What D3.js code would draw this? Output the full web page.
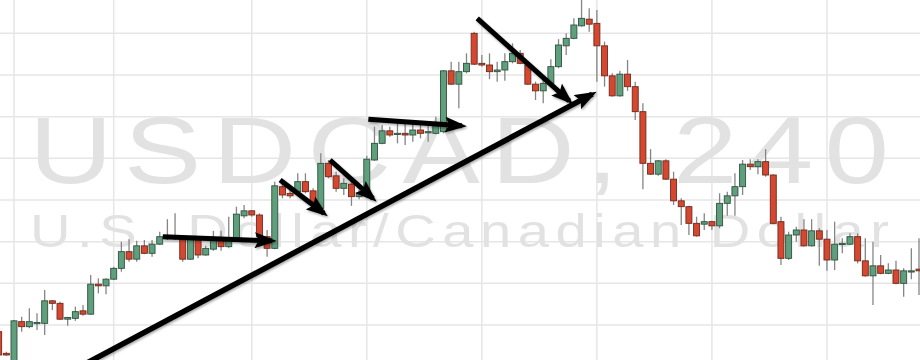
<!DOCTYPE html>
<html>
<head>
<meta charset="utf-8">
<script src="https://cdn.jsdelivr.net/npm/d3@7"></script>
<style>
  html, body { margin: 0; padding: 0; background: #fff; }
  #chart { width: 920px; height: 360px; overflow: hidden; }
</style>
</head>
<body>
<div id="chart"></div>
<script>
// USDCAD 4H candles (oldest first)
const open = [
    1.2992, 1.2966, 1.2940, 1.3004, 1.2998, 1.3002, 1.3002, 1.3029, 1.3026, 1.3007,
    1.3008, 1.3017, 1.3013, 1.3049, 1.3047, 1.3055, 1.3068, 1.3088, 1.3079, 1.3095,
    1.3086, 1.3097, 1.3104, 1.3107, 1.3104, 1.3079, 1.3104, 1.3084, 1.3091, 1.3102,
    1.3094, 1.3103, 1.3131, 1.3137, 1.3132, 1.3106, 1.3092, 1.3166, 1.3158, 1.3160,
    1.3172, 1.3161, 1.3140, 1.3194, 1.3179, 1.3164, 1.3169, 1.3154, 1.3158, 1.3198,
    1.3218, 1.3233, 1.3229, 1.3230, 1.3228, 1.3234, 1.3231, 1.3230, 1.3232, 1.3305,
    1.3289, 1.3304, 1.3350, 1.3314, 1.3312, 1.3304, 1.3306, 1.3316, 1.3326, 1.3312,
    1.3289, 1.3281, 1.3290, 1.3310, 1.3335, 1.3344, 1.3359, 1.3367, 1.3362, 1.3335,
    1.3299, 1.3275, 1.3301, 1.3286, 1.3256, 1.3194, 1.3181, 1.3197, 1.3175, 1.3149,
    1.3142, 1.3122, 1.3121, 1.3124, 1.3119, 1.3146, 1.3155, 1.3166, 1.3193, 1.3190,
    1.3196, 1.3180, 1.3124, 1.3080, 1.3108, 1.3114, 1.3095, 1.3113, 1.3103, 1.3078,
    1.3097, 1.3097, 1.3106, 1.3077, 1.3059, 1.3071, 1.3062, 1.3066, 1.3050, 1.3064,
    1.3067
];
const high = [
    1.2996, 1.2968, 1.3006, 1.3010, 1.3020, 1.3014, 1.3042, 1.3030, 1.3028, 1.3010,
    1.3022, 1.3024, 1.3060, 1.3056, 1.3056, 1.3070, 1.3100, 1.3103, 1.3101, 1.3102,
    1.3102, 1.3112, 1.3127, 1.3134, 1.3107, 1.3106, 1.3106, 1.3095, 1.3113, 1.3113,
    1.3130, 1.3142, 1.3144, 1.3138, 1.3134, 1.3114, 1.3172, 1.3170, 1.3162, 1.3182,
    1.3182, 1.3164, 1.3206, 1.3198, 1.3184, 1.3176, 1.3174, 1.3162, 1.3203, 1.3238,
    1.3240, 1.3238, 1.3242, 1.3242, 1.3242, 1.3240, 1.3240, 1.3250, 1.3306, 1.3316,
    1.3316, 1.3326, 1.3352, 1.3324, 1.3326, 1.3316, 1.3326, 1.3338, 1.3330, 1.3313,
    1.3292, 1.3296, 1.3319, 1.3343, 1.3350, 1.3368, 1.3396, 1.3380, 1.3378, 1.3340,
    1.3302, 1.3305, 1.3318, 1.3292, 1.3266, 1.3211, 1.3198, 1.3199, 1.3184, 1.3152,
    1.3143, 1.3130, 1.3134, 1.3125, 1.3158, 1.3160, 1.3182, 1.3198, 1.3199, 1.3199,
    1.3211, 1.3181, 1.3130, 1.3112, 1.3118, 1.3127, 1.3127, 1.3116, 1.3114, 1.3124,
    1.3104, 1.3110, 1.3110, 1.3104, 1.3100, 1.3084, 1.3074, 1.3077, 1.3068, 1.3092,
    1.3104
];
const low = [
    1.2960, 1.2963, 1.2934, 1.2992, 1.2996, 1.2994, 1.2988, 1.3018, 1.3006, 1.2999,
    1.3005, 1.3011, 1.3012, 1.3038, 1.3037, 1.3054, 1.3064, 1.3076, 1.3076, 1.3085,
    1.3082, 1.3096, 1.3102, 1.3102, 1.3076, 1.3078, 1.3080, 1.3083, 1.3089, 1.3089,
    1.3092, 1.3102, 1.3128, 1.3130, 1.3104, 1.3082, 1.3091, 1.3152, 1.3152, 1.3158,
    1.3158, 1.3142, 1.3139, 1.3176, 1.3160, 1.3156, 1.3143, 1.3151, 1.3157, 1.3197,
    1.3217, 1.3226, 1.3218, 1.3216, 1.3220, 1.3224, 1.3220, 1.3229, 1.3230, 1.3288,
    1.3260, 1.3302, 1.3312, 1.3310, 1.3295, 1.3292, 1.3293, 1.3314, 1.3313, 1.3288,
    1.3270, 1.3266, 1.3289, 1.3308, 1.3324, 1.3343, 1.3358, 1.3352, 1.3292, 1.3286,
    1.3274, 1.3274, 1.3281, 1.3246, 1.3163, 1.3180, 1.3179, 1.3174, 1.3144, 1.3120,
    1.3108, 1.3106, 1.3114, 1.3114, 1.3116, 1.3131, 1.3131, 1.3156, 1.3186, 1.3181,
    1.3178, 1.3121, 1.3072, 1.3078, 1.3100, 1.3094, 1.3094, 1.3071, 1.3065, 1.3066,
    1.3086, 1.3096, 1.3074, 1.3058, 1.3024, 1.3061, 1.3061, 1.3049, 1.3034, 1.3055,
    1.3036
];
const close = [
    1.2964, 1.2964, 1.3005, 1.2998, 1.3004, 1.3003, 1.3029, 1.3026, 1.3007, 1.3009,
    1.3016, 1.3013, 1.3049, 1.3047, 1.3055, 1.3068, 1.3088, 1.3079, 1.3095, 1.3086,
    1.3097, 1.3106, 1.3107, 1.3104, 1.3079, 1.3104, 1.3084, 1.3092, 1.3102, 1.3094,
    1.3103, 1.3133, 1.3137, 1.3132, 1.3106, 1.3092, 1.3167, 1.3156, 1.3155, 1.3172,
    1.3160, 1.3148, 1.3194, 1.3178, 1.3164, 1.3170, 1.3154, 1.3158, 1.3199, 1.3218,
    1.3233, 1.3228, 1.3230, 1.3228, 1.3234, 1.3230, 1.3232, 1.3239, 1.3305, 1.3289,
    1.3304, 1.3314, 1.3313, 1.3312, 1.3304, 1.3306, 1.3316, 1.3326, 1.3314, 1.3289,
    1.3281, 1.3290, 1.3310, 1.3336, 1.3344, 1.3360, 1.3368, 1.3361, 1.3335, 1.3299,
    1.3275, 1.3301, 1.3286, 1.3256, 1.3194, 1.3181, 1.3197, 1.3175, 1.3149, 1.3142,
    1.3122, 1.3107, 1.3124, 1.3119, 1.3146, 1.3155, 1.3166, 1.3193, 1.3190, 1.3196,
    1.3180, 1.3122, 1.3080, 1.3108, 1.3114, 1.3095, 1.3113, 1.3103, 1.3078, 1.3097,
    1.3098, 1.3106, 1.3077, 1.3059, 1.3071, 1.3062, 1.3066, 1.3050, 1.3065, 1.3065,
    1.3065
];

// grid: price levels and the bar numbers where time lines fall
const priceTicks = [1.295, 1.300, 1.305, 1.310, 1.315, 1.320, 1.325, 1.330, 1.335, 1.340];
const timeTicks = [2, 15, 33, 48, 63, 78, 93, 108];

const symbolText = 'USDCAD, 240';
const descText = 'U.S. Dollar/Canadian Dollar';

// hand drawn arrows, [bar, price] -> [bar, price]
const arrows = [
    { from: [10.6, 1.2950], to: [77.4, 1.3277] },
    { from: [21.4, 1.3106], to: [35.6, 1.3101] },
    { from: [36.7, 1.3174], to: [42.4, 1.3134] },
    { from: [43.2, 1.3198], to: [48.8, 1.3152] },
    { from: [48.2, 1.3247], to: [60.4, 1.3239] },
    { from: [62.4, 1.3368], to: [74.4, 1.3269] }
];

const width = 920;
const height = 360;

const candles = open.map((o, i) => ({ i, o, h: high[i], l: low[i], c: close[i] }));

const svg = d3.select('#chart')
    .append('svg')
    .attr('width', width)
    .attr('height', height);

const defs = svg.append('defs');

defs.append('marker')
    .attr('id', 'head')
    .attr('markerUnits', 'userSpaceOnUse')
    .attr('viewBox', '0 0 22 16')
    .attr('markerWidth', 22)
    .attr('markerHeight', 16)
    .attr('refX', 17)
    .attr('refY', 8)
    .attr('orient', 'auto')
    .append('path')
    .attr('d', 'M0,0 L22,8 L0,16 L4,8 Z')
    .attr('fill', '#000');

const shadow = defs.append('filter')
    .attr('id', 'shadow')
    .attr('x', '-20%').attr('y', '-20%')
    .attr('width', '140%').attr('height', '140%');
shadow.append('feDropShadow')
    .attr('dx', 1)
    .attr('dy', 1.5)
    .attr('stdDeviation', 1.3)
    .attr('flood-color', '#000')
    .attr('flood-opacity', 0.35);

svg.append('rect')
    .attr('width', width)
    .attr('height', height)
    .attr('fill', '#ffffff');

const x = d3.scaleLinear()
    .domain([2, 120])
    .range([14, 919]);

const y = d3.scaleLinear()
    .domain([1.339, 1.2958])
    .range([0, 360]);

// grid lines
svg.append('g')
    .selectAll('line')
    .data(priceTicks)
    .enter()
    .append('line')
    .attr('x1', 0)
    .attr('x2', width)
    .attr('y1', d => y(d))
    .attr('y2', d => y(d))
    .attr('stroke', '#e6e6e6')
    .attr('stroke-width', 1.5);

svg.append('g')
    .selectAll('line')
    .data(timeTicks)
    .enter()
    .append('line')
    .attr('x1', d => x(d))
    .attr('x2', d => x(d))
    .attr('y1', 0)
    .attr('y2', height)
    .attr('stroke', '#e6e6e6')
    .attr('stroke-width', 1.5);

// watermark, glyphs are a little wider than the font's own
const stretch = 1.22;
const mark = svg.append('g')
    .attr('transform', `scale(${stretch},1)`)
    .style('font-family', '"Liberation Sans", Arial, sans-serif')
    .style('fill', '#e2e2e2');

mark.append('text')
    .attr('x', 29 / stretch)
    .attr('y', 183)
    .attr('textLength', 860 / stretch)
    .attr('lengthAdjust', 'spacing')
    .style('font-size', '95px')
    .text(symbolText);

mark.append('text')
    .attr('x', 30 / stretch)
    .attr('y', 247)
    .attr('textLength', 859 / stretch)
    .attr('lengthAdjust', 'spacing')
    .style('font-size', '46px')
    .text(descText);

// candles
const up = d => d.c >= d.o;
const bodyW = 6;

const g = svg.append('g');

g.selectAll('.wick')
    .data(candles)
    .enter()
    .append('line')
    .attr('class', 'wick')
    .attr('x1', d => x(d.i))
    .attr('x2', d => x(d.i))
    .attr('y1', d => y(d.h))
    .attr('y2', d => y(d.l))
    .attr('stroke', '#858585')
    .attr('stroke-width', 1.3);

g.selectAll('.body')
    .data(candles)
    .enter()
    .append('rect')
    .attr('class', 'body')
    .attr('x', d => x(d.i) - bodyW / 2)
    .attr('y', d => y(Math.max(d.o, d.c)))
    .attr('width', bodyW)
    .attr('height', d => Math.max(1.2, Math.abs(y(d.o) - y(d.c))))
    .attr('fill', d => up(d) ? '#5f9f7c' : '#d6472f')
    .attr('stroke', d => up(d) ? '#2f5040' : '#6e2a1e')
    .attr('stroke-width', 0.9);

// arrows
svg.append('g')
    .attr('filter', 'url(#shadow)')
    .selectAll('line')
    .data(arrows)
    .enter()
    .append('line')
    .attr('x1', d => x(d.from[0]))
    .attr('y1', d => y(d.from[1]))
    .attr('x2', d => x(d.to[0]))
    .attr('y2', d => y(d.to[1]))
    .attr('stroke', '#000')
    .attr('stroke-width', (d, i) => i === 0 ? 5.5 : 5)
    .attr('marker-end', 'url(#head)');
</script>
</body>
</html>
